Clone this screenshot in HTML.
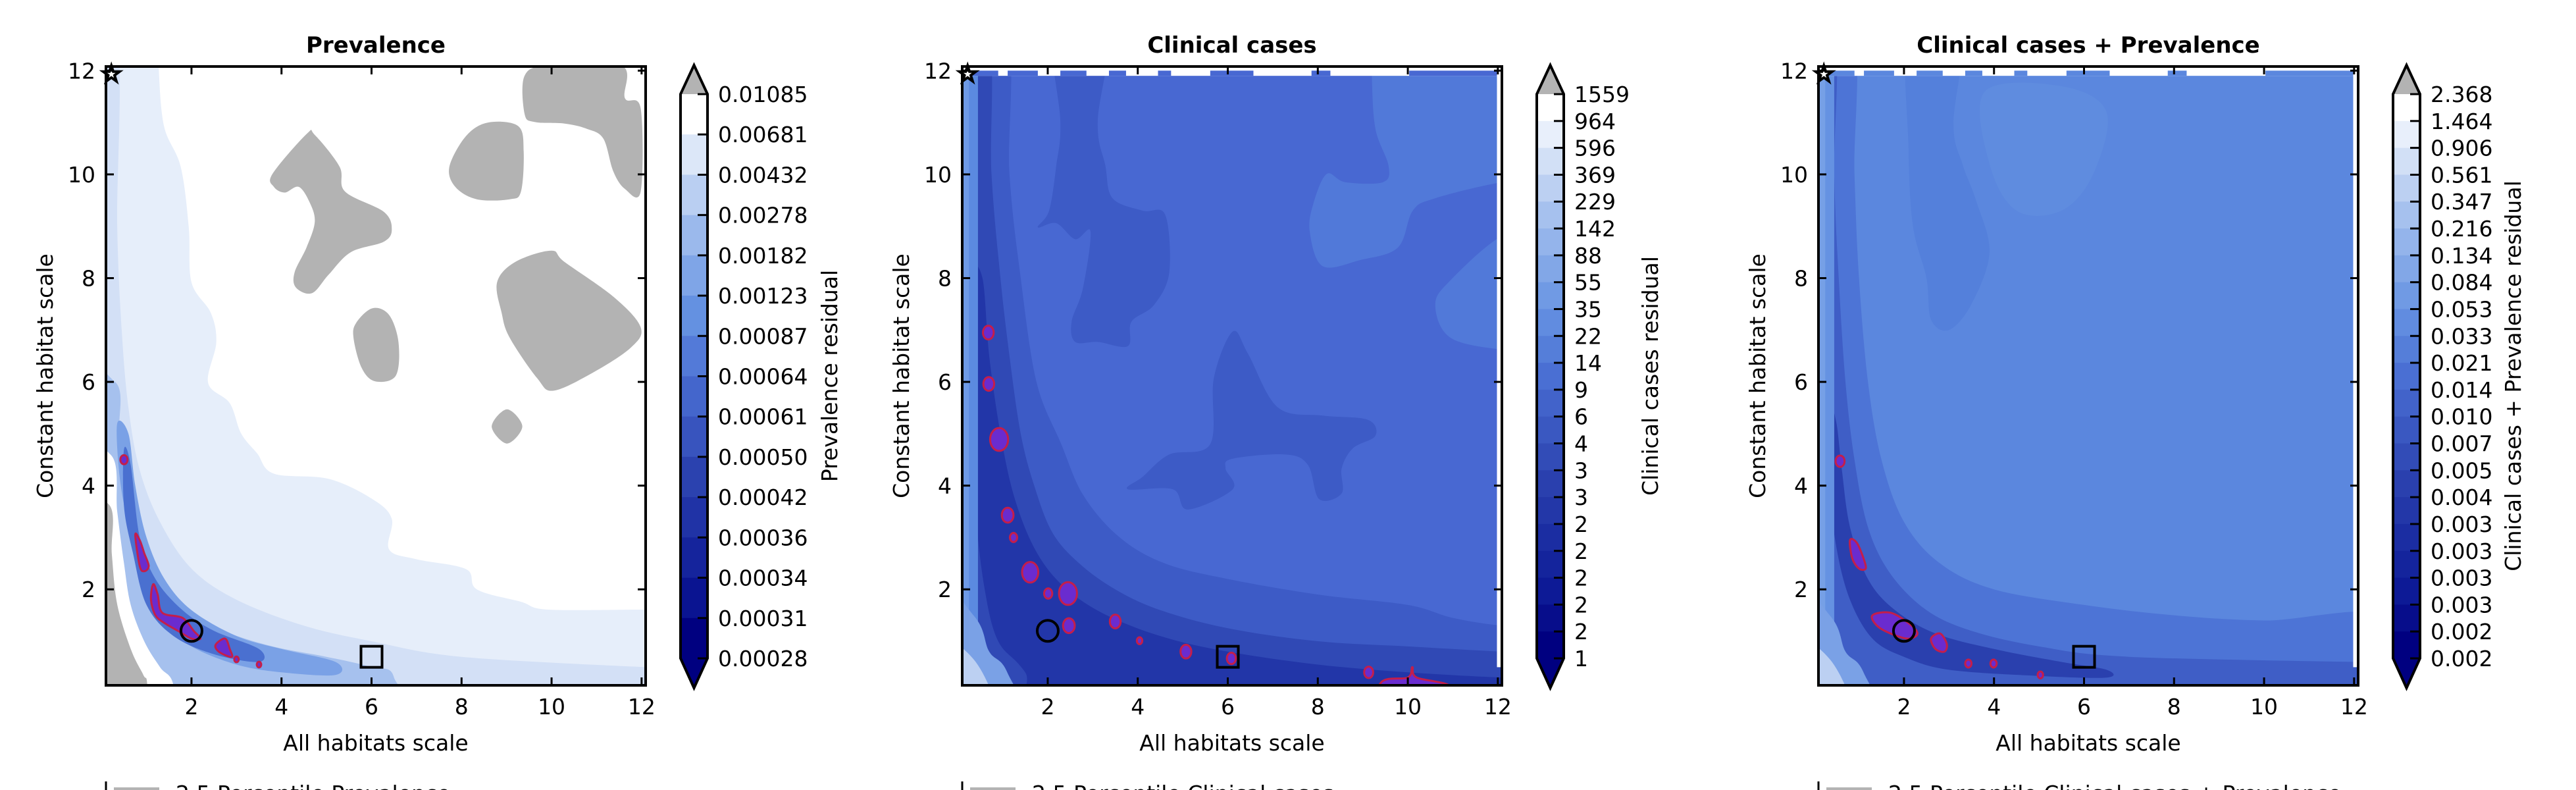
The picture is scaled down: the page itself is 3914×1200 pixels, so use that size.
<!DOCTYPE html>
<html><head><meta charset="utf-8"><title>Residual contour maps</title>
<style>
html,body{margin:0;padding:0;background:#fff;}
svg{display:block;font-family:"DejaVu Sans","Liberation Sans",sans-serif;}
</style></head>
<body>
<svg id="fig" xmlns="http://www.w3.org/2000/svg" width="3914" height="1200" viewBox="0 0 3914 1200"></svg>
<script>
// ---------- data ----------
const panelTitles = ["Prevalence", "Clinical cases", "Clinical cases + Prevalence"];
const colorbarLabels = ["Prevalence residual", "Clinical cases residual", "Clinical cases + Prevalence residual"];
const legendLabels = ["2.5 Percentile Prevalence", "2.5 Percentile Clinical cases", "2.5 Percentile Clinical cases + Prevalence"];
const xTicks = [2, 4, 6, 8, 10, 12];
const yTicks = [2, 4, 6, 8, 10, 12];
const prevLevels = ["0.01085","0.00681","0.00432","0.00278","0.00182","0.00123","0.00087","0.00064","0.00061","0.00050","0.00042","0.00036","0.00034","0.00031","0.00028"];
const clinLevels = ["1559","964","596","369","229","142","88","55","35","22","14","9","6","4","3","3","2","2","2","2","2","1"];
const bothLevels = ["2.368","1.464","0.906","0.561","0.347","0.216","0.134","0.084","0.053","0.033","0.021","0.014","0.010","0.007","0.005","0.004","0.003","0.003","0.003","0.003","0.002","0.002"];
const circleMarker = [2.0, 1.2];
const squareMarker = [6.0, 0.7];
const starMarker = [0.22, 11.93];

const prevBands = [
 [[-1,13],[1.27,13],[1.27,12.1],[1.39,10.93],[1.76,10.15],[1.94,8.98],[2.0,7.92],[2.43,7.33],[2.55,6.76],[2.37,5.98],[2.85,5.59],[3.10,5.01],[3.46,4.62],[3.83,4.23],[5.05,4.13],[6.02,3.74],[6.45,3.36],[6.39,2.77],[7.0,2.58],[8.10,2.39],[8.34,2.0],[9.32,1.76],[9.93,1.61],[12.06,1.61],[13,1.6],[13,-1],[-1,-1]],
 [[-1,13],[0.3,13],[0.35,9],[0.45,7],[0.6,5.5],[0.85,4.3],[1.3,3.3],[2.0,2.4],[3,1.8],[4.5,1.3],[6,1.0],[8,0.7],[12.09,0.5],[13,0.5],[13,-1],[-1,-1]],
 [[-1,6],[0.3,6],[0.4,5],[0.55,4],[0.8,3.0],[1.2,2.2],[1.8,1.6],[2.7,1.2],[3.8,0.9],[5,0.7],[6,0.5],[6.5,0.3],[6.5,-1],[-1,-1]]
];
const prevWhiteBand = [[-1,-1],[-1,4.6],[0.2,4.6],[0.35,3.5],[0.5,2.5],[0.65,1.7],[0.95,1.0],[1.3,0.5],[1.6,0.15],[1.7,-1]];
const prevGrayWedge = [[-1,-1],[-1,3.65],[0.15,3.65],[0.23,2.68],[0.35,1.71],[0.66,0.83],[0.93,0.35],[1.02,0.15],[1.05,-1]];
const prevInnerBands = [
 [[0.35,5.2],[0.6,5],[0.75,4],[1.0,3.0],[1.4,2.2],[2.0,1.6],[3,1.1],[4,0.85],[5.2,0.6],[5.2,0.35],[4,0.4],[3,0.55],[2,0.9],[1.3,1.4],[0.9,2.1],[0.6,3.2],[0.4,4.2]],
 [[0.5,4.7],[0.65,4.4],[0.85,3.0],[1.2,2.2],[1.8,1.6],[2.5,1.2],[3.5,0.85],[3.5,0.6],[2.5,0.75],[1.6,1.1],[1.0,1.7],[0.7,2.7],[0.5,3.6]]
];
const prevGrayBlobs = [
 [[9.40,11.90],[9.93,12.1],[11.55,12.1],[11.63,11.47],[11.98,11.27],[11.98,9.67],[11.63,9.72],[11.37,10.06],[11.15,10.69],[10.78,10.88],[10.29,10.98],[9.62,11.01],[9.40,11.17]],
 [[3.80,10.01],[4.56,10.78],[4.74,10.76],[5.29,10.15],[5.41,9.67],[6.27,9.28],[6.45,8.94],[6.27,8.70],[5.54,8.50],[5.05,8.07],[4.68,7.71],[4.32,7.82],[4.29,8.11],[4.56,8.60],[4.74,9.09],[4.62,9.47],[4.38,9.76],[4.07,9.65],[3.83,9.76]],
 [[7.73,10.15],[8.10,10.74],[8.59,11.00],[9.26,10.93],[9.38,10.44],[9.32,9.67],[9.07,9.52],[8.34,9.52],[7.86,9.76]],
 [[5.66,7.14],[6.02,7.42],[6.39,7.29],[6.60,6.76],[6.54,6.12],[6.08,6.01],[5.78,6.27],[5.60,6.85]],
 [[8.79,7.92],[9.19,8.31],[9.99,8.53],[10.29,8.31],[11.39,7.63],[11.98,7.05],[11.76,6.66],[10.90,6.17],[10.04,5.83],[9.68,6.07],[9.07,6.85],[8.89,7.33]],
 [[9.01,5.47],[9.35,5.14],[9.01,4.81],[8.67,5.14]]
];
const prevPatches = [
 [[0.75,3.05],[0.85,2.95],[0.95,2.7],[1.05,2.45],[0.95,2.35],[0.85,2.45]],
 [[1.15,2.1],[1.25,1.9],[1.35,1.55],[1.8,1.45],[2.05,1.2],[2.2,1.05],[2.0,1.05],[1.7,1.2],[1.4,1.35],[1.2,1.5],[1.1,1.8]],
 [[2.55,0.95],[2.75,1.05],[2.85,0.85],[2.9,0.7],[2.7,0.75],[2.55,0.85]]
];
const prevSpots = [[0.5,4.5,0.08],[3.0,0.65,0.05],[3.5,0.55,0.05]];

const clinRegions = [
 [[9.20,13],[9.20,11.90],[9.28,10.88],[9.57,10.17],[9.45,9.85],[8.61,9.85],[8.20,10.01],[7.91,9.46],[7.82,8.90],[8.11,8.23],[8.95,8.35],[9.78,8.59],[10.11,9.30],[10.61,9.54],[12.11,9.85],[13,9.85],[13,13]],
 [[13,8.82],[12.11,8.82],[10.95,7.96],[10.61,7.48],[10.95,6.85],[12.11,6.62],[13,6.62]]
];
const clinDarkRegions = [
 [[2.11,13],[3.36,13],[3.11,11.03],[3.28,10.17],[3.44,9.54],[4.11,9.30],[4.61,9.22],[4.70,8.11],[4.36,7.48],[3.86,7.16],[3.78,6.69],[3.11,6.77],[2.61,6.77],[2.53,7.16],[2.78,7.80],[2.95,8.90],[2.61,8.75],[2.19,9.06],[1.78,8.98],[2.03,9.30],[2.19,10.17],[2.28,11.03]],
 [[6.11,6.97],[6.45,6.54],[7.11,5.51],[8.11,5.35],[9.11,5.27],[9.28,4.96],[8.78,4.72],[8.53,4.33],[8.53,3.85],[8.03,3.74],[7.78,4.40],[7.28,4.60],[6.11,4.52],[5.95,4.33],[6.11,3.93],[5.11,3.54],[4.78,3.93],[3.78,3.93],[4.11,4.17],[4.70,4.60],[5.61,4.80],[5.69,6.07]]
];
const clinBands = [
 [[-1,13],[1.0,13],[1.15,10],[1.4,8],[1.75,6],[2.3,4.8],[2.8,3.8],[3.6,3],[4.6,2.5],[6,2.2],[8,1.9],[10,1.7],[11,1.45],[12.1,1.3],[13,1.3],[13,-1],[-1,-1]],
 [[-1,13],[0.6,13],[0.75,10],[0.95,8],[1.15,6.5],[1.4,5],[1.7,4],[2.1,3.1],[2.7,2.5],[3.5,2.0],[4.5,1.6],[6,1.25],[8,1.0],[10,0.9],[12.1,0.8],[13,0.8],[13,-1],[-1,-1]],
 [[0.3,8],[0.55,8],[0.7,6.5],[0.95,5],[1.25,3.8],[1.7,2.8],[2.3,2.1],[3.2,1.55],[4.5,1.1],[6,0.8],[8,0.55],[10,0.4],[12.1,0.3],[13,0.3],[13,-1],[2.5,-1],[1.5,0.4],[0.9,1],[0.6,2],[0.4,3.5],[0.3,5.5]]
];
const clinSpots = [[0.68,6.95,0.12],[0.69,5.96,0.12],[0.92,4.89,0.2],[1.11,3.43,0.13],[1.24,3.0,0.08],[1.61,2.33,0.18],[2.45,1.92,0.2],[2.01,1.92,0.09],[2.47,1.30,0.13],[3.5,1.38,0.12],[4.04,1.01,0.06],[5.07,0.80,0.12],[6.08,0.67,0.1],[9.13,0.40,0.1]];
const clinPatches = [[[9.3,-0.5],[9.4,0.2],[10.0,0.3],[10.1,0.5],[10.2,0.3],[11,0.1],[11,-0.5]]];

const bothRegions = [
 [[3.8,11.6],[5.5,11.7],[6.5,11.2],[6.2,10],[5.5,9.3],[4.5,9.3],[3.9,10.2]]
];
const bothDarkRegions = [
 [[2.11,13],[3.3,13],[3.1,11.0],[3.3,10.2],[3.6,9.5],[3.9,8.5],[3.5,7.5],[3.0,7.0],[2.6,7.2],[2.5,8.0],[2.2,9.0],[2.1,10.5]]
];
const bothBands = [
 [[-1,13],[0.8,13],[0.9,10],[1.0,8],[1.2,6],[1.5,4.5],[2,3.3],[2.8,2.5],[4,2.0],[6,1.7],[8,1.5],[10,1.4],[13,1.4],[13,-1],[-1,-1]],
 [[-1,13],[0.4,13],[0.45,10],[0.55,8],[0.7,6],[0.9,4.5],[1.2,3.2],[1.7,2.3],[2.5,1.6],[3.5,1.2],[5,0.9],[7,0.7],[12.1,0.6],[13,0.6],[13,-1],[-1,-1]],
 [[0.35,5.5],[0.5,5.2],[0.62,4.3],[0.8,3.2],[1.2,2.2],[1.8,1.6],[2.7,1.15],[4,0.85],[5.5,0.6],[6.5,0.45],[6.5,0.3],[5,0.33],[3,0.45],[2,0.7],[1.3,1.05],[0.8,1.8],[0.5,2.8],[0.35,4]]
];
const bothSpots = [[0.58,4.47,0.1],[3.43,0.57,0.07],[3.99,0.57,0.07],[5.03,0.35,0.06]];
const bothPatches = [
 [[0.8,2.95],[0.95,2.9],[1.1,2.6],[1.15,2.4],[1.0,2.4],[0.85,2.6]],
 [[1.3,1.5],[1.7,1.55],[2.1,1.35],[2.3,1.15],[2.1,1.05],[1.7,1.15],[1.4,1.3]],
 [[2.6,1.05],[2.8,1.15],[2.95,0.95],[2.9,0.8],[2.7,0.85]]
];
const topChunks = [[0.11,0.90],[1.11,1.78],[2.28,2.86],[3.36,3.74],[4.45,4.74],[5.61,6.57],[7.86,8.28],[10.03,12.11]];

// ---------- style ----------
const NS = 'http://www.w3.org/2000/svg';
const svg = document.getElementById('fig');
const PANEL_DX = 1301;
const AX = {x0:161, x1:981, y0:101, y1:1041, xmin:0.1, xmax:12.09, ymin:0.15, ymax:12.08};
const FS = 33;
const prevBandColors = ['#e6eefa', '#d3e0f6', '#a6c1ee'];
const prevInnerColors = ['#7aa1e6', '#4a70d0'];
const clinBg = '#4868d2', clinRegionColors = ['#5179d9', '#5179d9'], clinDarkColor = '#3d5bc6';
const clinBandColors = ['#3d5bc6', '#3049b5', '#2236a8'];
const bothBg = '#5b87de', bothRegionColors = ['#5f8cdf'], bothDarkColor = '#5480db';
const bothBandColors = ['#4d74d6', '#3f5ec6', '#2a40ae'];

function sx(p, x){ return p*PANEL_DX + AX.x0 + (x-AX.xmin)/(AX.xmax-AX.xmin)*(AX.x1-AX.x0); }
function sy(y){ return AX.y1 - (y-AX.ymin)/(AX.ymax-AX.ymin)*(AX.y1-AX.y0); }

function make(tag, name, parent){
  const el = document.createElementNS(NS, tag);
  
  
  parent.appendChild(el);
  return el;
}
function smoothPath(p, pts){
  const P = pts.map(q => [sx(p,q[0]), sy(q[1])]);
  const n = P.length;
  let d = 'M' + P[0][0].toFixed(1) + ',' + P[0][1].toFixed(1);
  for (let i=0;i<n;i++){
    const p0=P[(i-1+n)%n], p1=P[i], p2=P[(i+1)%n], p3=P[(i+2)%n];
    const c1=[p1[0]+(p2[0]-p0[0])/6, p1[1]+(p2[1]-p0[1])/6];
    const c2=[p2[0]-(p3[0]-p1[0])/6, p2[1]-(p3[1]-p1[1])/6];
    d += 'C'+c1[0].toFixed(1)+','+c1[1].toFixed(1)+' '+c2[0].toFixed(1)+','+c2[1].toFixed(1)+' '+p2[0].toFixed(1)+','+p2[1].toFixed(1);
  }
  return d + 'Z';
}
function region(p, g, pts, fill, name){
  const el = make('path', name, g);
  el.setAttribute('d', smoothPath(p, pts));
  el.setAttribute('fill', fill);
}
function patch(p, g, pts){
  const el = make('path', 'exceedance-patch', g);
  el.setAttribute('d', smoothPath(p, pts));
  el.setAttribute('fill', '#6a2ccf');
  el.setAttribute('stroke', '#c41e4a');
  el.setAttribute('stroke-width', '3');
}
function spot(p, g, s){
  const el = make('ellipse', 'exceedance-spot', g);
  el.setAttribute('cx', sx(p, s[0]));
  el.setAttribute('cy', sy(s[1]));
  el.setAttribute('rx', s[2]*(AX.x1-AX.x0)/(AX.xmax-AX.xmin));
  el.setAttribute('ry', s[2]*(AX.y1-AX.y0)/(AX.ymax-AX.ymin)*1.1);
  el.setAttribute('fill', '#6a2ccf');
  el.setAttribute('stroke', '#c41e4a');
  el.setAttribute('stroke-width', '3');
}
function lerpHex(a, b, t){
  const pa=[1,3,5].map(i=>parseInt(a.substr(i,2),16)), pb=[1,3,5].map(i=>parseInt(b.substr(i,2),16));
  return 'rgb('+pa.map((v,i)=>Math.round(v+(pb[i]-v)*t)).join(',')+')';
}
const cmapStops = [[0,'#000080'],[0.1,'#0d1a96'],[0.3,'#2a40ae'],[0.5,'#4a6fd3'],[0.62,'#6592e2'],[0.8,'#a6c1ee'],[0.92,'#dbe6f8'],[1,'#ffffff']];
function cmap(t){
  for (let i=1;i<cmapStops.length;i++){
    if (t<=cmapStops[i][0]){
      const a=cmapStops[i-1], b=cmapStops[i];
      return lerpHex(a[1], b[1], (t-a[0])/(b[0]-a[0]));
    }
  }
  return '#ffffff';
}

function drawPanel(p, levels){
  const defs = make('defs', 'defs', svg);
  const cp = make('clipPath', 'plot-clip', defs);
  cp.setAttribute('id', 'clip'+p);
  const cr = make('rect', 'clip-rect', cp);
  cr.setAttribute('x', sx(p,AX.xmin)); cr.setAttribute('y', AX.y0);
  cr.setAttribute('width', AX.x1-AX.x0); cr.setAttribute('height', AX.y1-AX.y0);

  const g = make('g', 'contour-plot-'+(p+1), svg);
  g.setAttribute('clip-path', 'url(#clip'+p+')');
  const bg = make('rect', 'plot-background', g);
  bg.setAttribute('x', sx(p,AX.xmin)); bg.setAttribute('y', AX.y0);
  bg.setAttribute('width', AX.x1-AX.x0); bg.setAttribute('height', AX.y1-AX.y0);

  if (p===0){
    bg.setAttribute('fill', '#ffffff');
    prevBands.forEach((b,i)=>region(p, g, b, prevBandColors[i], 'contour-band'));
    region(p, g, prevWhiteBand, '#ffffff', 'white-band');
    region(p, g, prevGrayWedge, '#b3b3b3', 'below-percentile-region');
    prevInnerBands.forEach((b,i)=>region(p, g, b, prevInnerColors[i], 'contour-band'));
    prevGrayBlobs.forEach(b=>region(p, g, b, '#b3b3b3', 'below-percentile-region'));
    prevPatches.forEach(b=>patch(p, g, b));
    prevSpots.forEach(s=>spot(p, g, s));
  } else {
    const isClin = p===1;
    bg.setAttribute('fill', isClin ? clinBg : bothBg);
    (isClin?clinRegions:bothRegions).forEach((b,i)=>region(p, g, b, (isClin?clinRegionColors:bothRegionColors)[i], 'light-region'));
    (isClin?clinDarkRegions:bothDarkRegions).forEach(b=>region(p, g, b, isClin?clinDarkColor:bothDarkColor, 'dark-region'));
    const bands = isClin?clinBands:bothBands, bc = isClin?clinBandColors:bothBandColors;
    bands.forEach((b,i)=>region(p, g, b, bc[i], 'contour-band'));
    const s1 = make('rect', 'left-light-strip', g);
    s1.setAttribute('x', sx(p,AX.xmin)); s1.setAttribute('y', AX.y0);
    s1.setAttribute('width', sx(p,0.45)-sx(p,AX.xmin)); s1.setAttribute('height', AX.y1-AX.y0);
    s1.setAttribute('fill', isClin ? '#5b8ae0' : '#6592e2');
    const s2 = make('rect', 'left-light-strip', g);
    s2.setAttribute('x', sx(p,AX.xmin)); s2.setAttribute('y', AX.y0);
    s2.setAttribute('width', sx(p,0.25)-sx(p,AX.xmin)); s2.setAttribute('height', AX.y1-AX.y0);
    s2.setAttribute('fill', isClin ? '#6e9ae6' : '#76a0e6');
    region(p, g, [[-1,-1],[-1,2.5],[0.35,1.5],[0.7,0.8],[1.1,0.4],[1.6,-1]], '#7aa1e6', 'corner-light');
    region(p, g, [[-1,-1],[-1,1.2],[0.4,0.6],[0.9,-1]], '#bcd0f2', 'corner-light');
    (isClin?clinPatches:bothPatches).forEach(b=>patch(p, g, b));
    (isClin?clinSpots:bothSpots).forEach(s=>spot(p, g, s));
    const wt = make('rect', 'masked-top-strip', g);
    wt.setAttribute('x', sx(p,AX.xmin)); wt.setAttribute('y', AX.y0);
    wt.setAttribute('width', AX.x1-AX.x0); wt.setAttribute('height', sy(11.9)-AX.y0);
    wt.setAttribute('fill', '#ffffff');
    topChunks.forEach(c=>{
      const r = make('rect', 'top-strip-chunk', g);
      r.setAttribute('x', sx(p,c[0])); r.setAttribute('y', sy(12.0));
      r.setAttribute('width', sx(p,c[1])-sx(p,c[0])); r.setAttribute('height', sy(11.9)-sy(12.0));
      r.setAttribute('fill', isClin ? '#4868d2' : '#5b87de');
    });
    const wr = make('rect', 'masked-right-strip', g);
    wr.setAttribute('x', sx(p,11.98)); wr.setAttribute('y', AX.y0);
    wr.setAttribute('width', sx(p,AX.xmax)-sx(p,11.98)); wr.setAttribute('height', sy(0.5)-AX.y0);
    wr.setAttribute('fill', '#ffffff');
  }

  const mg = make('g', 'markers', svg);
  const c = make('circle', 'circle-marker', mg);
  c.setAttribute('cx', sx(p,circleMarker[0])); c.setAttribute('cy', sy(circleMarker[1])); c.setAttribute('r', 16);
  c.setAttribute('fill', 'none'); c.setAttribute('stroke', '#000'); c.setAttribute('stroke-width', 4);
  const sq = make('rect', 'square-marker', mg);
  sq.setAttribute('x', sx(p,squareMarker[0])-16); sq.setAttribute('y', sy(squareMarker[1])-16);
  sq.setAttribute('width', 32); sq.setAttribute('height', 32);
  sq.setAttribute('fill', 'none'); sq.setAttribute('stroke', '#000'); sq.setAttribute('stroke-width', 4);
  const st = make('polygon', 'star-marker', mg);
  const cx = sx(p,starMarker[0]), cy = sy(starMarker[1]);
  let sp = [];
  for (let k=0;k<10;k++){ const r = k%2?5:13, a = -Math.PI/2 + k*Math.PI/5; sp.push((cx+r*Math.cos(a)).toFixed(1)+','+(cy+r*Math.sin(a)).toFixed(1)); }
  st.setAttribute('points', sp.join(' '));
  st.setAttribute('fill', '#fff'); st.setAttribute('stroke', '#000'); st.setAttribute('stroke-width', 4);

  const ag = make('g', 'axes-'+(p+1), svg);
  const frame = make('rect', 'plot-frame', ag);
  frame.setAttribute('x', sx(p,AX.xmin)); frame.setAttribute('y', AX.y0);
  frame.setAttribute('width', AX.x1-AX.x0); frame.setAttribute('height', AX.y1-AX.y0);
  frame.setAttribute('fill', 'none'); frame.setAttribute('stroke', '#000'); frame.setAttribute('stroke-width', 4);
  xTicks.forEach(v=>{
    const x = sx(p,v);
    [[AX.y1, AX.y1-12],[AX.y0, AX.y0+12]].forEach(yy=>{
      const t = make('line', 'x-tick', ag);
      t.setAttribute('x1', x); t.setAttribute('x2', x); t.setAttribute('y1', yy[0]); t.setAttribute('y2', yy[1]);
      t.setAttribute('stroke', '#000'); t.setAttribute('stroke-width', 3);
    });
    const lb = make('text', 'x-tick-label', ag);
    lb.setAttribute('x', x); lb.setAttribute('y', 1085); lb.setAttribute('text-anchor', 'middle');
    lb.setAttribute('font-size', FS); lb.textContent = v;
  });
  yTicks.forEach(v=>{
    const y = sy(v);
    [[sx(p,AX.xmin), sx(p,AX.xmin)+12],[sx(p,AX.xmax), sx(p,AX.xmax)-12]].forEach(xx=>{
      const t = make('line', 'y-tick', ag);
      t.setAttribute('x1', xx[0]); t.setAttribute('x2', xx[1]); t.setAttribute('y1', y); t.setAttribute('y2', y);
      t.setAttribute('stroke', '#000'); t.setAttribute('stroke-width', 3);
    });
    const lb = make('text', 'y-tick-label', ag);
    lb.setAttribute('x', p*PANEL_DX + 145); lb.setAttribute('y', y+12); lb.setAttribute('text-anchor', 'end');
    lb.setAttribute('font-size', FS); lb.textContent = v;
  });
  const title = make('text', 'panel-title', ag);
  title.setAttribute('x', (sx(p,AX.xmin)+sx(p,AX.xmax))/2); title.setAttribute('y', 80);
  title.setAttribute('text-anchor', 'middle'); title.setAttribute('font-size', 34); title.setAttribute('font-weight', 'bold');
  title.textContent = panelTitles[p];
  const xl = make('text', 'x-axis-title', ag);
  xl.setAttribute('x', (sx(p,AX.xmin)+sx(p,AX.xmax))/2); xl.setAttribute('y', 1140);
  xl.setAttribute('text-anchor', 'middle'); xl.setAttribute('font-size', FS);
  xl.textContent = 'All habitats scale';
  const yl = make('text', 'y-axis-title', ag);
  const ylx = p*PANEL_DX + 80, yly = (AX.y0+AX.y1)/2;
  yl.setAttribute('x', ylx); yl.setAttribute('y', yly);
  yl.setAttribute('transform', 'rotate(-90 '+ylx+' '+yly+')');
  yl.setAttribute('text-anchor', 'middle'); yl.setAttribute('font-size', FS);
  yl.textContent = 'Constant habitat scale';

  const cg = make('g', 'colorbar-'+(p+1), svg);
  const cbx0 = p*PANEL_DX + 1034, cbx1 = p*PANEL_DX + 1075, cbTop = 143, cbBot = 1000;
  const n = levels.length - 1, h = (cbBot-cbTop)/n;
  for (let i=0;i<n;i++){
    const r = make('rect', 'colorbar-segment', cg);
    r.setAttribute('x', cbx0); r.setAttribute('y', cbTop + i*h);
    r.setAttribute('width', cbx1-cbx0); r.setAttribute('height', h+0.6);
    r.setAttribute('fill', cmap(1 - i/(n-1)));
  }
  const tri1 = make('polygon', 'colorbar-extend-max', cg);
  tri1.setAttribute('points', cbx0+','+cbTop+' '+cbx1+','+cbTop+' '+(cbx0+cbx1)/2+',99');
  tri1.setAttribute('fill', '#b3b3b3');
  const tri2 = make('polygon', 'colorbar-extend-min', cg);
  tri2.setAttribute('points', cbx0+','+cbBot+' '+cbx1+','+cbBot+' '+(cbx0+cbx1)/2+',1045');
  tri2.setAttribute('fill', '#000080');
  const outline = make('polygon', 'colorbar-outline', cg);
  outline.setAttribute('points', cbx0+','+cbTop+' '+(cbx0+cbx1)/2+',99 '+cbx1+','+cbTop+' '+cbx1+','+cbBot+' '+(cbx0+cbx1)/2+',1045 '+cbx0+','+cbBot);
  outline.setAttribute('fill', 'none'); outline.setAttribute('stroke', '#000'); outline.setAttribute('stroke-width', 4);
  levels.forEach((lv,i)=>{
    const y = cbTop + i*h;
    const t = make('line', 'colorbar-tick', cg);
    t.setAttribute('x1', cbx1-15); t.setAttribute('x2', cbx1); t.setAttribute('y1', y); t.setAttribute('y2', y);
    t.setAttribute('stroke', '#000'); t.setAttribute('stroke-width', 3);
    const lb = make('text', 'colorbar-tick-label', cg);
    lb.setAttribute('x', cbx1+16); lb.setAttribute('y', y+12);
    lb.setAttribute('font-size', FS); lb.textContent = lv;
  });
  const cl = make('text', 'colorbar-label', cg);
  const clx = p===0 ? p*PANEL_DX+1272 : (p===1 ? p*PANEL_DX+1218 : p*PANEL_DX+1228), cly = 571;
  cl.setAttribute('x', clx); cl.setAttribute('y', cly);
  cl.setAttribute('transform', 'rotate(-90 '+clx+' '+cly+')');
  cl.setAttribute('text-anchor', 'middle'); cl.setAttribute('font-size', FS);
  cl.textContent = colorbarLabels[p];

  const lg = make('g', 'legend-'+(p+1), svg);
  const ll = make('line', 'legend-frame-edge', lg);
  ll.setAttribute('x1', p*PANEL_DX+161); ll.setAttribute('x2', p*PANEL_DX+161);
  ll.setAttribute('y1', 1187); ll.setAttribute('y2', 1200); ll.setAttribute('stroke', '#000'); ll.setAttribute('stroke-width', 3);
  const sw = make('rect', 'legend-swatch', lg);
  sw.setAttribute('x', p*PANEL_DX+173); sw.setAttribute('y', 1196); sw.setAttribute('width', 69); sw.setAttribute('height', 10);
  sw.setAttribute('fill', '#b3b3b3');
  const lt = make('text', 'legend-entry', lg);
  lt.setAttribute('x', p*PANEL_DX+267); lt.setAttribute('y', 1217);
  lt.setAttribute('font-size', FS); lt.textContent = legendLabels[p];
}

drawPanel(0, prevLevels);
drawPanel(1, clinLevels);
drawPanel(2, bothLevels);
</script>
</body></html>
